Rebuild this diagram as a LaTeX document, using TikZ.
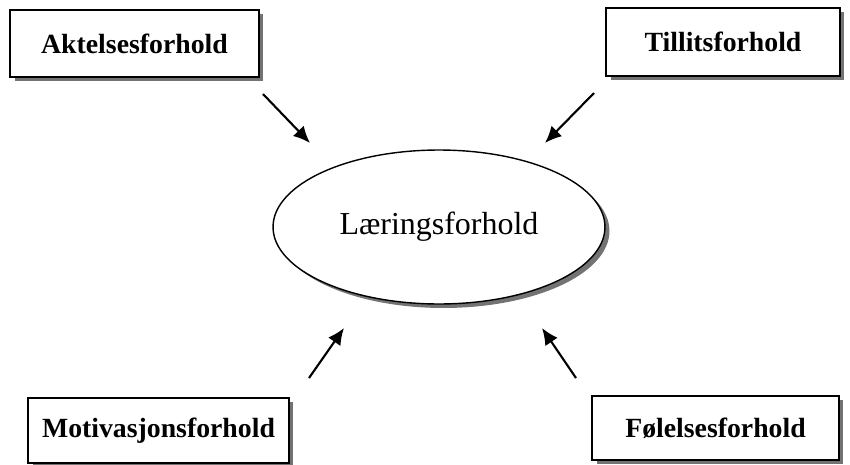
\documentclass[tikz,border=0pt]{standalone}
\usepackage{fontspec}
\setmainfont{Liberation Serif}
\usetikzlibrary{shapes.geometric,shadows,arrows.meta}
\tikzset{
	forhold/.style={draw, line width=1.1pt, fill=white, inner sep=0pt,
		font=\fontsize{15.8}{18}\selectfont\bfseries,
		drop shadow={shadow xshift=0.09cm, shadow yshift=-0.08cm, fill=black!55, opacity=1}},
	sentrum/.style={ellipse, draw, line width=0.8pt, fill=white, inner sep=0pt,
		minimum width=6.64cm, minimum height=3.08cm,
		font=\fontsize{18.2}{21}\selectfont,
		drop shadow={shadow xshift=0.09cm, shadow yshift=-0.08cm, fill=black!55, opacity=1}},
	pil/.style={-{Latex[length=9.5pt,width=8.5pt]}, line width=1.2pt}
}
\begin{document}
\begin{tikzpicture}[x=0.02cm, y=-0.02cm]
	\useasboundingbox (0,0) rectangle (850,464);

	% centre
	\node[sentrum] (laering) at (439,227) {Læringsforhold};

	% top left
	\node[forhold, minimum width=4.98cm, minimum height=1.34cm] (aktelse) at (134.5,43.5) {Aktelsesforhold};
	% top right
	\node[forhold, minimum width=4.68cm, minimum height=1.36cm] (tillit) at (723,42) {Tillitsforhold};
	% bottom left
	\node[forhold, minimum width=5.22cm, minimum height=1.30cm] (motivasjon) at (158.5,430.5) {Motivasjonsforhold};
	% bottom right
	\node[forhold, minimum width=4.94cm, minimum height=1.28cm] (folelse) at (715.5,428) {Følelsesforhold};

	% arrows
	\coordinate (a1) at (263,94);  \coordinate (b1) at (310,143);
	\coordinate (a2) at (594,93);  \coordinate (b2) at (545,143);
	\coordinate (a3) at (309,378); \coordinate (b3) at (344,328);
	\coordinate (a4) at (576,378); \coordinate (b4) at (542,328);
	\draw[pil] (a1) -- (b1);
	\draw[pil] (a2) -- (b2);
	\draw[pil] (a3) -- (b3);
	\draw[pil] (a4) -- (b4);
\end{tikzpicture}
\end{document}
